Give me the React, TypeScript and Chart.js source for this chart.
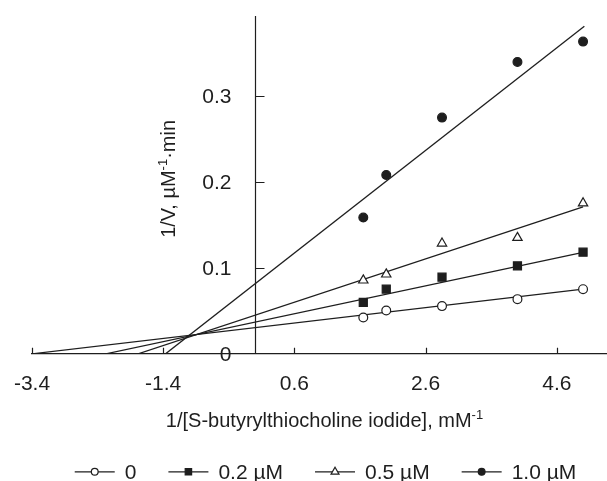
import React, { useEffect, useRef } from 'react';
import { Chart, registerables } from 'chart.js';

Chart.register(...registerables);

// ---- data ----
const seriesLabels = ['0', '0.2 µM', '0.5 µM', '1.0 µM'];
const substrateInv = [1.65, 2.0, 2.85, 4.0, 5.0];
const velInv0 = [0.0423, 0.0504, 0.0555, 0.0636, 0.0752];
const velInv02 = [0.0597, 0.0752, 0.0891, 0.1023, 0.1182];
const velInv05 = [0.0855, 0.0925, 0.1285, 0.135, 0.1752];
const velInv10 = [0.1585, 0.208, 0.2748, 0.3395, 0.3632];

// fitted straight lines: endpoints (x, y)
const fitX0 = [-3.4, 5.0];
const fitY0 = [0, 0.0752];
const fitX02 = [-2.274, 5.0];
const fitY02 = [0, 0.118];
const fitX05 = [-1.782, 5.0];
const fitY05 = [0, 0.171];
const fitX10 = [-1.364, 5.02];
const fitY10 = [0, 0.381];

const xTickValues = [-3.4, -1.4, 0.6, 2.6, 4.6];
const xTickLabels = ['-3.4', '-1.4', '0.6', '2.6', '4.6'];
const yTickValues = [0, 0.1, 0.2, 0.3];
const yTickLabels = ['0', '0.1', '0.2', '0.3'];

const INK = '#1e1e1e';
const FONT = '"Liberation Sans", Arial, sans-serif';

type Marker = 'circleOpen' | 'rect' | 'triangle' | 'circle';
const markerKinds: Marker[] = ['circleOpen', 'rect', 'triangle', 'circle'];

function pts(xs: number[], ys: number[]) {
  return xs.map((x, i) => ({ x, y: ys[i] }));
}

function drawMarker(ctx: CanvasRenderingContext2D, kind: Marker, x: number, y: number, r: number) {
  ctx.beginPath();
  if (kind === 'circleOpen' || kind === 'circle') {
    ctx.arc(x, y, r, 0, Math.PI * 2);
  } else if (kind === 'rect') {
    ctx.rect(x - r, y - r, 2 * r, 2 * r);
  } else {
    ctx.moveTo(x, y - r);
    ctx.lineTo(x + r * Math.sin((2 * Math.PI) / 3), y - r * Math.cos((2 * Math.PI) / 3));
    ctx.lineTo(x + r * Math.sin((4 * Math.PI) / 3), y - r * Math.cos((4 * Math.PI) / 3));
    ctx.closePath();
  }
  ctx.fillStyle = kind === 'circleOpen' || kind === 'triangle' ? '#ffffff' : INK;
  ctx.fill();
  ctx.lineWidth = 1.2;
  ctx.strokeStyle = INK;
  ctx.stroke();
}

type Part = { text: string; size: number; dy: number };

function richWidth(ctx: CanvasRenderingContext2D, parts: Part[]) {
  let w = 0;
  parts.forEach((p) => {
    ctx.font = `${p.size}px ${FONT}`;
    w += ctx.measureText(p.text).width;
  });
  return w;
}

function drawRich(ctx: CanvasRenderingContext2D, parts: Part[], cx: number, cy: number) {
  const total = richWidth(ctx, parts);
  let x = cx - total / 2;
  ctx.textAlign = 'left';
  ctx.textBaseline = 'alphabetic';
  parts.forEach((p) => {
    ctx.font = `${p.size}px ${FONT}`;
    ctx.fillText(p.text, x, cy + p.dy);
    x += ctx.measureText(p.text).width;
  });
}

const overlayPlugin = {
  id: 'overlay',
  afterDraw(chart: any) {
    const ctx: CanvasRenderingContext2D = chart.ctx;
    const xs = chart.scales.x;
    const ys = chart.scales.y;
    const ca = chart.chartArea;
    const x0 = Math.round(xs.getPixelForValue(0)) + 0.5;
    ctx.save();
    ctx.strokeStyle = INK;
    ctx.lineWidth = 1.2;
    // y axis line at x = 0
    ctx.beginPath();
    ctx.moveTo(x0, ca.top);
    ctx.lineTo(x0, ca.bottom);
    // inner tick marks
    xTickValues.forEach((v) => {
      const px = Math.round(xs.getPixelForValue(v)) + 0.5;
      ctx.moveTo(px, ca.bottom);
      ctx.lineTo(px, ca.bottom - 6);
    });
    yTickValues.forEach((v) => {
      if (v === 0) return;
      const py = Math.round(ys.getPixelForValue(v)) + 0.5;
      ctx.moveTo(x0, py);
      ctx.lineTo(x0 + 9, py);
    });
    ctx.stroke();

    ctx.fillStyle = INK;
    // y tick labels, left of the y axis
    ctx.font = `21px ${FONT}`;
    ctx.textAlign = 'right';
    ctx.textBaseline = 'middle';
    yTickValues.forEach((v, i) => {
      ctx.fillText(yTickLabels[i], x0 - 24, ys.getPixelForValue(v) + 1);
    });

    // x axis title
    const cx = (ca.left + ca.right) / 2 + 5;
    drawRich(
      ctx,
      [
        { text: '1/[S-butyrylthiocholine iodide], mM', size: 20, dy: 0 },
        { text: '-1', size: 13, dy: -8 },
      ],
      cx,
      ca.bottom + 73
    );

    // y axis title (rotated)
    ctx.save();
    ctx.translate(x0 - 88, (ca.top + ca.bottom) / 2 - 6);
    ctx.rotate(-Math.PI / 2);
    drawRich(
      ctx,
      [
        { text: '1/V, µM', size: 20, dy: 0 },
        { text: '-1', size: 13, dy: -8 },
        { text: '·min', size: 20, dy: 0 },
      ],
      0,
      7
    );
    ctx.restore();

    // legend
    ctx.font = `21px ${FONT}`;
    const lineLen = 40;
    const gapText = 10;
    const gapItem = 32;
    const widths = seriesLabels.map((t) => lineLen + gapText + ctx.measureText(t).width);
    const total = widths.reduce((a, b) => a + b, 0) + gapItem * (seriesLabels.length - 1);
    let lx = cx + 1 - total / 2;
    const ly = ca.bottom + 118;
    seriesLabels.forEach((t, i) => {
      ctx.strokeStyle = INK;
      ctx.lineWidth = 1.2;
      ctx.beginPath();
      ctx.moveTo(lx, ly);
      ctx.lineTo(lx + lineLen, ly);
      ctx.stroke();
      const kind = markerKinds[i];
      const r = kind === 'rect' ? 3.2 : kind === 'triangle' ? 4.6 : 3.4;
      drawMarker(ctx, kind, lx + lineLen / 2, ly, r);
      ctx.fillStyle = INK;
      ctx.font = `21px ${FONT}`;
      ctx.textAlign = 'left';
      ctx.textBaseline = 'middle';
      ctx.fillText(t, lx + lineLen + gapText, ly + 1);
      lx += widths[i] + gapItem;
    });
    ctx.restore();
  },
};

export default function App() {
  const ref = useRef<HTMLCanvasElement | null>(null);

  useEffect(() => {
    document.body.style.margin = '0';
    const canvas = ref.current;
    if (!canvas) return;

    const pointStyleOf = (k: Marker) => (k === 'circleOpen' ? 'circle' : k);
    const radiusOf = (k: Marker) => (k === 'rect' ? 5.7 : k === 'triangle' ? 5.4 : 4.4);
    const seriesY = [velInv0, velInv02, velInv05, velInv10];
    const pointSets = seriesY.map((ys, i) => {
      const k = markerKinds[i];
      return {
        label: seriesLabels[i],
        data: pts(substrateInv, ys),
        showLine: false,
        pointStyle: pointStyleOf(k),
        pointRadius: radiusOf(k),
        pointBackgroundColor: k === 'circleOpen' || k === 'triangle' ? '#ffffff' : INK,
        pointBorderColor: INK,
        pointBorderWidth: 1.2,
        clip: false,
      };
    });
    const fits = [
      [fitX0, fitY0],
      [fitX02, fitY02],
      [fitX05, fitY05],
      [fitX10, fitY10],
    ];
    const lineSets = fits.map(([fx, fy], i) => ({
      label: 'fit ' + seriesLabels[i],
      data: pts(fx, fy),
      showLine: true,
      borderColor: INK,
      borderWidth: 1.3,
      pointRadius: 0,
      fill: false,
    }));

    const chart = new Chart(canvas, {
      type: 'scatter',
      data: { datasets: [...pointSets, ...lineSets] as any },
      plugins: [overlayPlugin],
      options: {
        animation: false,
        responsive: false,
        events: [],
        layout: { autoPadding: false, padding: { left: 32, right: 0, top: 16, bottom: 84 } },
        plugins: { legend: { display: false }, tooltip: { enabled: false }, title: { display: false } },
        scales: {
          x: {
            type: 'linear',
            position: 'bottom',
            min: -3.4,
            max: 5.365,
            afterBuildTicks: (s: any) => {
              s.ticks = xTickValues.map((v) => ({ value: v }));
            },
            ticks: {
              autoSkip: false,
              maxRotation: 0,
              padding: 0,
              color: INK,
              font: { family: FONT, size: 21 },
              callback: (_v: any, i: number) => xTickLabels[i],
            },
            grid: { drawOnChartArea: false, drawTicks: true, tickLength: 18, tickColor: 'rgba(0,0,0,0)' },
            border: { display: true, color: INK, width: 1.2 },
          },
          y: {
            type: 'linear',
            display: false,
            min: 0,
            max: 0.393,
            afterBuildTicks: (s: any) => {
              s.ticks = yTickValues.map((v) => ({ value: v }));
            },
          },
        },
      },
    });
    return () => chart.destroy();
  }, []);

  return (
    <div style={{ width: 607, height: 481 }}>
      <canvas ref={ref} width={607} height={481} style={{ display: 'block' }} />
    </div>
  );
}
